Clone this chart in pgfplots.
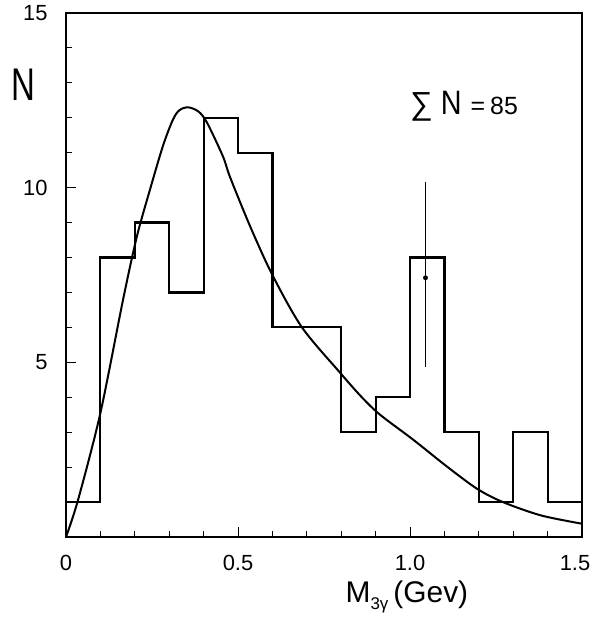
\documentclass[border=0pt]{standalone}
\usepackage{pgfplots}
\pgfplotsset{compat=1.18}
\usepackage{fontspec}
\setmainfont{Liberation Sans}
\begin{document}
\begin{tikzpicture}
\useasboundingbox (-66bp,-86bp) rectangle (527bp,537bp);
\begin{axis}[
  scale only axis,
  width=516bp, height=524bp,
  xmin=0, xmax=1.5, ymin=0, ymax=15,
  xtick={0,0.5,1.0,1.5},
  xticklabels={0,0.5,1.0,{\hspace*{-14bp}1.5}},
  ytick={5,10,15},
  minor xtick={0.1,0.2,0.3,0.4,0.6,0.7,0.8,0.9,1.1,1.2,1.3,1.4},
  minor ytick={1,2,3,4,6,7,8,9,11,12,13,14},
  xtick pos=bottom, ytick pos=left,
  tick align=inside,
  major tick length=10bp, minor tick length=6bp,
  every tick/.style={black, line width=1bp},
  axis line style={line width=1.3bp},
  /pgf/number format/assume math mode=true,
  ticklabel style={font=\fontsize{22}{22}\selectfont},
  xticklabel style={yshift=-15bp},
  yticklabel style={xshift=-15bp},
  clip=false,
]
% histogram
\addplot[black, line width=2.2bp, const plot mark left] coordinates {
  (0,1) (0.1,8) (0.2,9) (0.3,7) (0.4,12) (0.5,11) (0.6,6) (0.7,6)
  (0.8,3) (0.9,4) (1.0,8) (1.1,3) (1.2,1) (1.3,3) (1.4,1) (1.5,1)
};
% fitted curve
\addplot[black, line width=2bp, smooth, tension=0.5] coordinates {
  (0,0) (0.035,1.06) (0.1,3.55) (0.166,6.8) (0.206,8.6) (0.244,9.94)
  (0.282,11.2) (0.311,11.95) (0.33,12.22) (0.355,12.3) (0.385,12.18)
  (0.41,11.86) (0.456,10.9) (0.477,10.3) (0.535,8.9) (0.60,7.5)
  (0.686,6.0) (0.797,4.7) (0.86,4.0) (0.913,3.5) (1.01,2.78)
  (1.107,2.02) (1.195,1.38) (1.27,1.0) (1.38,0.62) (1.5,0.38)
};
% data point with error bar
\addplot[black, only marks, mark=*, mark size=2.2bp,
  error bars/.cd, y dir=both, y explicit,
  error mark=none, error bar style={line width=1bp}]
  coordinates {(1.045,7.42) += (0,2.75) -= (0,2.55)};
\node[anchor=center] at (axis cs:-0.125,12.95)
  {\scalebox{0.72}[1]{\fontsize{46}{46}\selectfont N}};
\node[anchor=base west, inner sep=0pt] at (axis cs:1.0,12.09)
  {{\fontsize{32}{32}\selectfont ∑}\hspace{8bp}{\fontsize{34}{34}\selectfont\scalebox{0.85}[1]{N}}\hspace{9bp}{\fontsize{25}{25}\selectfont =\hspace{5bp}85}};
\node[anchor=center] at (axis cs:0.991,-1.72)
  {\fontsize{30}{30}\selectfont M\raisebox{-7bp}{\fontsize{17}{17}\selectfont 3γ}\,(Gev)};
\end{axis}
\end{tikzpicture}
\end{document}
